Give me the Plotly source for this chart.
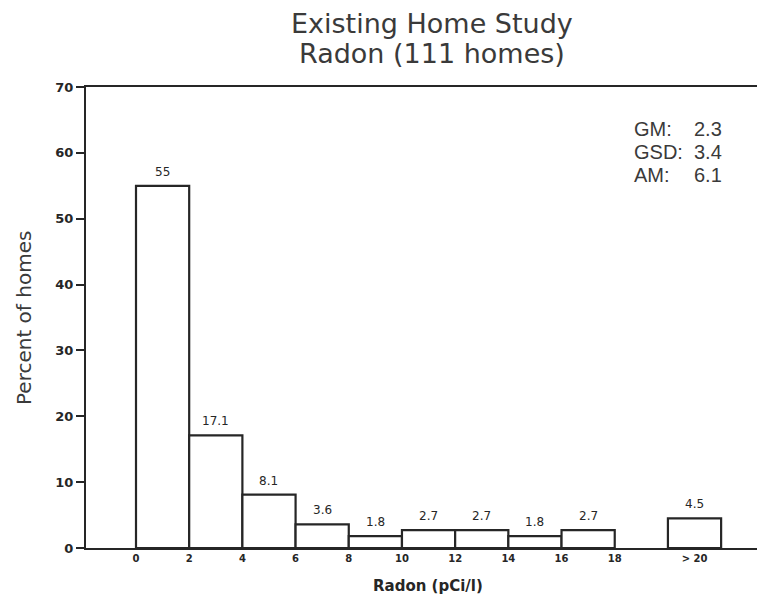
import plotly.graph_objects as go

bin_centers = [1, 3, 5, 7, 9, 11, 13, 15, 17, 21]
percent = [55, 17.1, 8.1, 3.6, 1.8, 2.7, 2.7, 1.8, 2.7, 4.5]
bar_labels = ["55", "17.1", "8.1", "3.6", "1.8", "2.7", "2.7", "1.8", "2.7", "4.5"]
x_tickvals = [0, 2, 4, 6, 8, 10, 12, 14, 16, 18, 21]
x_ticktext = ["0", "2", "4", "6", "8", "10", "12", "14", "16", "18", "> 20"]
y_tickvals = [0, 10, 20, 30, 40, 50, 60, 70]
stats_names = ["GM:", "GSD:", "AM:"]
stats_values = ["2.3", "3.4", "6.1"]
title_lines = ["Existing Home Study", "Radon (111 homes)"]

ink = "#262626"
grey = "#3a3a3a"
OFF = 8  # page offset of the plot div inside the browser window
W, H = 765 - OFF, 600 - OFF
ML, MR, MT, MB = 86 - OFF, 0, 87 - OFF, H - (548 - OFF)
plot_w = W - ML - MR
plot_h = H - MT - MB


def px_x(p):
    return (p - OFF - ML) / plot_w


def px_y(p):
    return (H - MB - (p - OFF)) / plot_h


fig = go.Figure()
fig.add_trace(go.Bar(
    x=bin_centers, y=percent, width=2,
    marker=dict(color="white", line=dict(color=ink, width=2.2)),
    hoverinfo="x+y",
))

for xc, yv, lab in zip(bin_centers, percent, bar_labels):
    fig.add_annotation(
        x=xc, y=yv, xref="x", yref="y", text=lab, showarrow=False,
        yanchor="bottom", yshift=5,
        font=dict(family="DejaVu Sans", size=12, color=ink),
    )

fig.update_layout(
    width=W, height=H,
    margin=dict(l=ML, r=MR, t=MT, b=MB, autoexpand=False),
    paper_bgcolor="white", plot_bgcolor="white",
    showlegend=False,
    xaxis=dict(range=[-1.88, 23.65], tickvals=x_tickvals, ticktext=x_ticktext,
               automargin=False,
               showgrid=False, zeroline=False, showline=True, linecolor=ink, linewidth=2.2,
               mirror=True, ticks="",
               tickfont=dict(family="DejaVu Sans", size=10, color=ink, weight="bold")),
    yaxis=dict(range=[0, 70], tickvals=y_tickvals,
               automargin=False,
               showgrid=False, zeroline=False, showline=True, linecolor=ink, linewidth=2.2,
               ticks="outside", ticklen=8, tickwidth=1.5, tickcolor=ink,
               tickfont=dict(family="DejaVu Sans", size=13, color=ink, weight="bold")),
)

# axis titles
fig.add_annotation(
    x=px_x(428), y=px_y(586), xref="paper", yref="paper", showarrow=False,
    text="<b>Radon (pCi/l)</b>", xanchor="center", yanchor="middle",
    font=dict(family="DejaVu Sans", size=15, color=ink),
)
fig.add_annotation(
    x=px_x(24), y=px_y(318), xref="paper", yref="paper", showarrow=False,
    text="Percent of homes", textangle=-90, xanchor="center", yanchor="middle",
    font=dict(family="DejaVu Sans", size=20, color=grey),
)

# title lines
for i, line in enumerate(title_lines):
    fig.add_annotation(
        x=px_x(432), y=px_y(23 + 31 * i), xref="paper", yref="paper", showarrow=False,
        text=line, xanchor="center", yanchor="middle",
        font=dict(family="DejaVu Sans", size=27, color=grey),
    )

# statistics box
for i, (name, val) in enumerate(zip(stats_names, stats_values)):
    yc = 129 + 23 * i
    fig.add_annotation(
        x=px_x(632), y=px_y(yc), xref="paper", yref="paper", showarrow=False,
        text=name, xanchor="left", yanchor="middle",
        font=dict(family="Liberation Sans", size=20, color=grey),
    )
    fig.add_annotation(
        x=px_x(692), y=px_y(yc), xref="paper", yref="paper", showarrow=False,
        text=val, xanchor="left", yanchor="middle",
        font=dict(family="Liberation Sans", size=20, color=grey),
    )

fig.write_html("out.html")
